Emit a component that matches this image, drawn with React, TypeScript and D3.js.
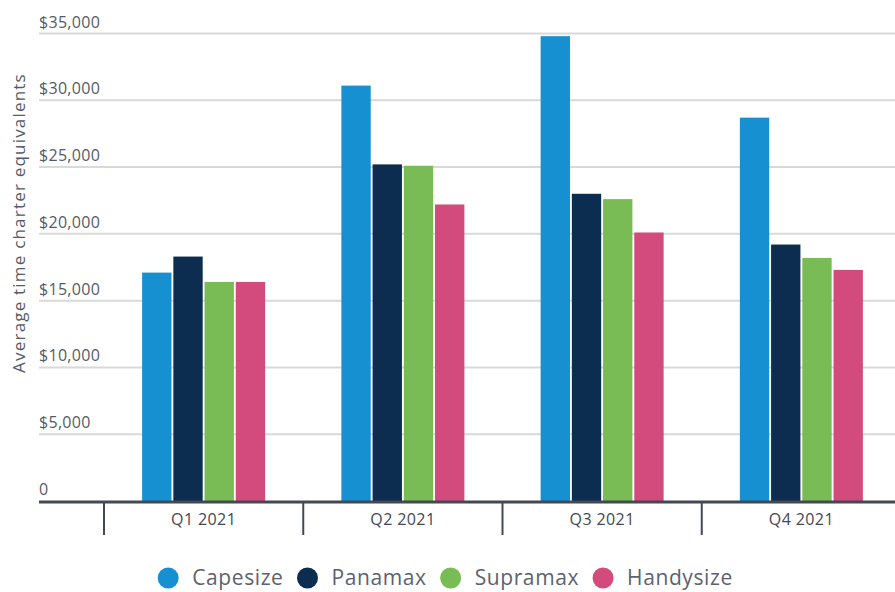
import React from "react";
import * as d3 from "d3";

const categories = ["Q1 2021", "Q2 2021", "Q3 2021", "Q4 2021"];
const seriesNames = ["Capesize", "Panamax", "Supramax", "Handysize"];
const capesize = [17100, 31100, 34800, 28700];
const panamax = [18300, 25200, 23000, 19200];
const supramax = [16400, 25100, 22600, 18200];
const handysize = [16400, 22200, 20100, 17300];
const yTicks = [0, 5000, 10000, 15000, 20000, 25000, 30000, 35000];
const colors = ["#1690d0", "#0c2d4f", "#79bc55", "#d24b7c"];

const W = 895;
const H = 592;
const FONT = "'Open Sans', 'Noto Sans', sans-serif";

export default function App() {
  const series = [capesize, panamax, supramax, handysize];
  const x = d3.scaleBand<string>().domain(categories).range([104, 901]).paddingInner(0).paddingOuter(0);
  const y = d3.scaleLinear().domain([0, 35000]).range([501, 33.5]);
  const groupW = 123;
  const x1 = d3.scaleBand<string>().domain(seriesNames).range([0, groupW]).paddingInner(0.06);
  const fmt = (v: number) => (v === 0 ? "0" : "$" + d3.format(",")(v));

  const legendRef = React.useRef<SVGGElement>(null);
  React.useEffect(() => {
    const g = d3.select(legendRef.current);
    g.selectAll("*").remove();
    const items = g.selectAll("g.item").data(seriesNames).enter().append("g").attr("class", "item");
    items.append("circle").attr("r", 10.5).attr("cy", 0).attr("fill", (_d, i) => colors[i]);
    items
      .append("text")
      .attr("x", 24)
      .attr("dy", "0.35em")
      .attr("font-family", FONT)
      .attr("font-size", 21)
      .attr("letter-spacing", 0.6)
      .attr("fill", "#5d6170")
      .text((d) => d);
    let cx = 0;
    const pos: number[] = [];
    items.each(function () {
      const t = d3.select(this).select("text").node() as SVGTextElement;
      pos.push(cx);
      cx += 24 + t.getComputedTextLength() + 24;
    });
    const total = cx - 24 + 11;
    const start = 445 - total / 2 + 11;
    items.attr("transform", (_d, i) => `translate(${start + pos[i]},578)`);
  }, []);

  return (
    <svg width={W} height={H} style={{ position: "absolute", left: 0, top: 0 }}>
      <rect width={W} height={H} fill="#fff" />
      {yTicks.map((t) => (
        <g key={t}>
          {t !== 0 && <line x1={39} x2={W} y1={y(t)} y2={y(t)} stroke="#d9d9d9" strokeWidth={2} />}
          <text x={39} y={y(t) - 6} fontFamily={FONT} fontSize={16} letterSpacing={0.3} fill="#555b66">
            {fmt(t)}
          </text>
        </g>
      ))}
      <text
        transform={`translate(25,223) rotate(-90)`}
        textAnchor="middle"
        fontFamily={FONT}
        fontSize={17}
        letterSpacing={1.2}
        fill="#555b66"
      >
        Average time charter equivalents
      </text>
      {categories.map((c, ci) => (
        <g key={c} transform={`translate(${(x(c) as number) + x.bandwidth() / 2 - groupW / 2},0)`}>
          {seriesNames.map((s, si) => (
            <rect
              key={s}
              x={x1(s)}
              width={x1.bandwidth()}
              y={y(series[si][ci])}
              height={y(0) - y(series[si][ci])}
              fill={colors[si]}
            />
          ))}
        </g>
      ))}
      <line x1={39} x2={W} y1={502} y2={502} stroke="#434854" strokeWidth={3} />
      {categories.map((c) => (
        <g key={c}>
          <line x1={(x(c) as number)} x2={(x(c) as number)} y1={502} y2={535} stroke="#434854" strokeWidth={2} />
          <text
            x={(x(c) as number) + x.bandwidth() / 2}
            y={525}
            textAnchor="middle"
            fontFamily={FONT}
            fontSize={16}
            letterSpacing={0.4}
            fill="#434854"
          >
            {c}
          </text>
        </g>
      ))}
      <g ref={legendRef} />
    </svg>
  );
}
